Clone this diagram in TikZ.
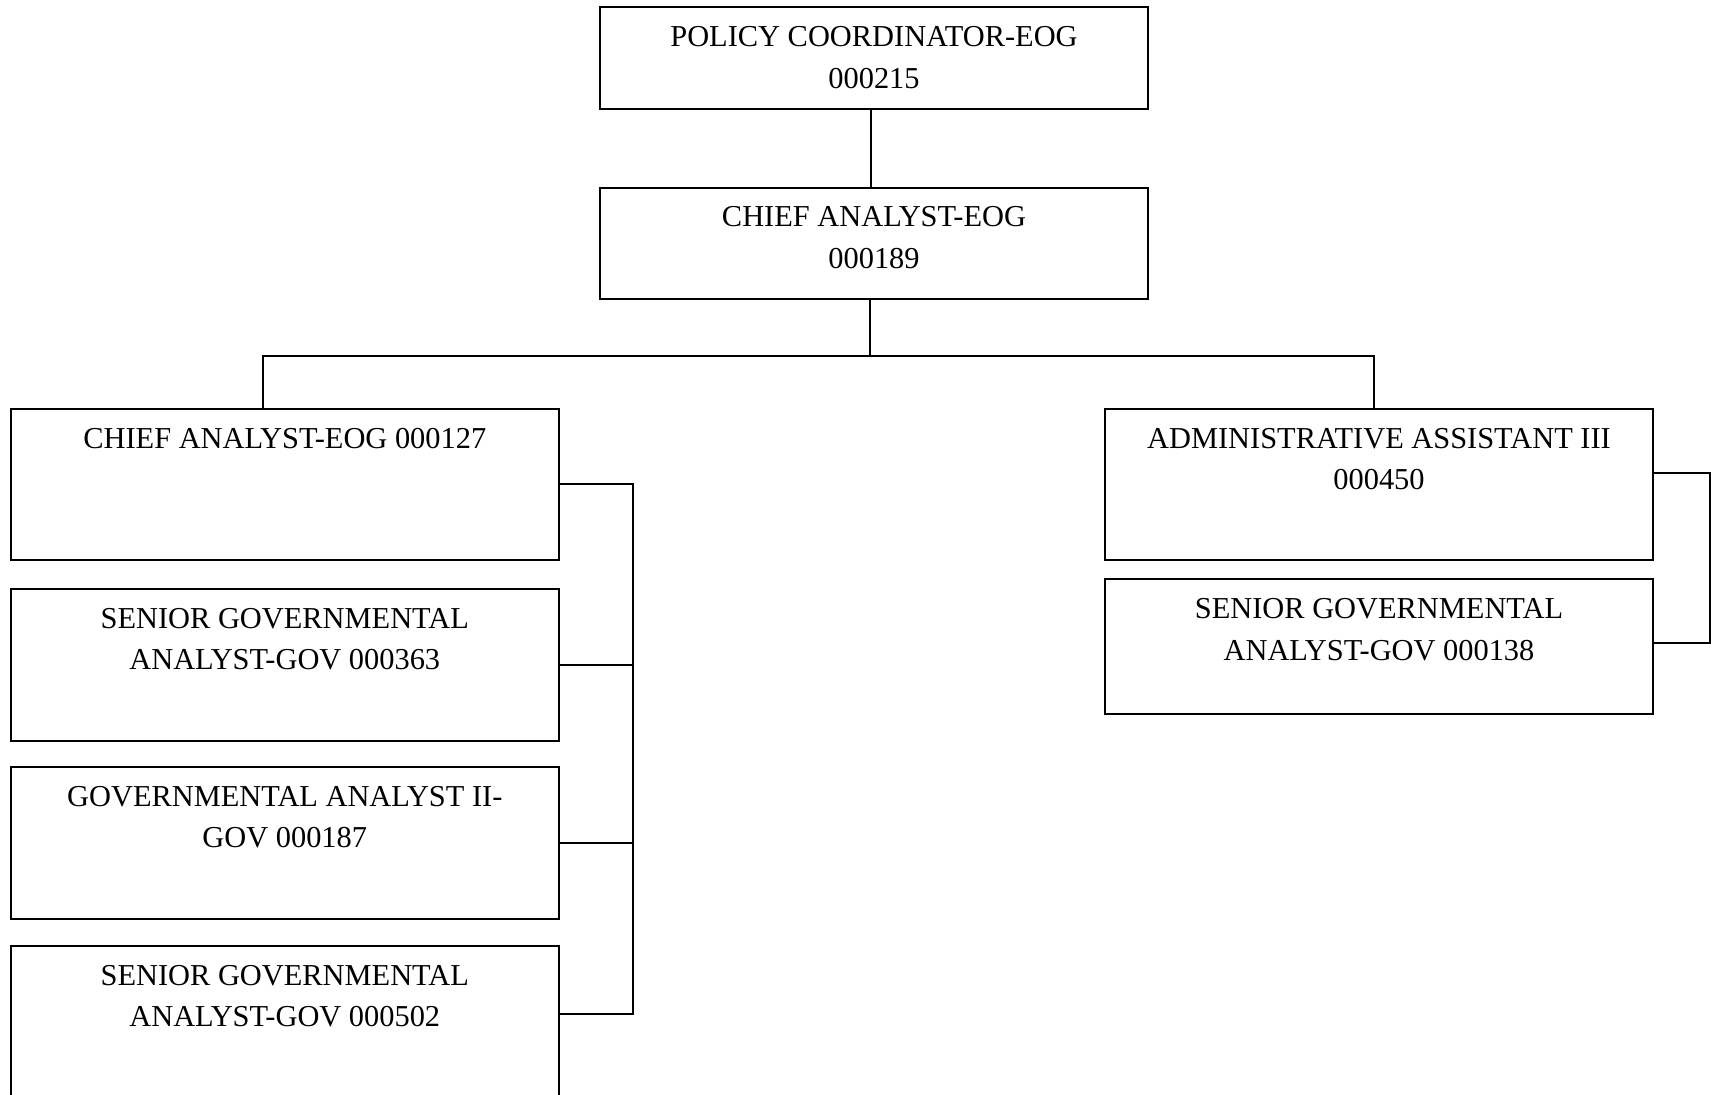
\documentclass[tikz,border=0pt]{standalone}
\usepackage{fontspec}
\setmainfont{Liberation Serif}
% text of a position box, set from the top edge of the box
\newcommand\celltext[2]{\parbox[c][#1][t]{274pt}{\centering\fontsize{15.2pt}{20.75pt}\selectfont\rule{0pt}{19.6pt}#2}}
\begin{document}
\begin{tikzpicture}[x=0.5pt,y=-0.5pt,
  box/.style={draw, line width=1pt, inner sep=0pt, anchor=north west, minimum width=274pt},
  conn/.style={line width=1pt}]
\useasboundingbox (0,0) rectangle (1711,1095);
\fill[white] (0,0) rectangle (1711,1095);

% upper chain
\node[box] (pc) at (599,6.5)   {\celltext{50.75pt}{POLICY COORDINATOR-EOG\\000215}};
\node[box] (ca) at (599,186.6) {\celltext{55.65pt}{CHIEF ANALYST-EOG\\000189}};

% left column
\node[box] (a) at (9.8,408)   {\celltext{75.35pt}{CHIEF ANALYST-EOG 000127}};
\node[box] (b) at (9.8,588)   {\celltext{75.9pt}{SENIOR GOVERNMENTAL\\ANALYST-GOV 000363}};
\node[box] (c) at (9.8,766)   {\celltext{75.85pt}{GOVERNMENTAL ANALYST II-\\GOV 000187}};
\node[box] (d) at (9.8,945)   {\celltext{80pt}{SENIOR GOVERNMENTAL\\ANALYST-GOV 000502}};

% right column
\node[box] (e) at (1104,408)  {\celltext{75.35pt}{ADMINISTRATIVE ASSISTANT III\\000450}};
\node[box] (f) at (1104,578.3){\celltext{67.15pt}{SENIOR GOVERNMENTAL\\ANALYST-GOV 000138}};

% reference points of the connectors
\coordinate (bus) at (869.7,355.7);
\coordinate (dropL) at (263,0);
\coordinate (dropR) at (1373.8,0);
\coordinate (spineL) at (632.9,0);
\coordinate (spineR) at (1710,0);
\coordinate (dstub) at ([yshift=-34.35pt]d.north east);
\coordinate (estub) at ([yshift=5.45pt]e.east);
\coordinate (fstub) at ([yshift=1.95pt]f.east);

% connectors
\draw[conn] ([xshift=-1.6pt]pc.south) -- ([xshift=-1.6pt]ca.north);
\draw[conn] (ca.south -| bus) -- (bus);
\draw[conn] (dropL |- a.north) |- (bus) -| (dropR |- e.north);
\draw[conn] (a.east) -| (spineL |- dstub) -- (dstub);
\draw[conn] (b.east) -- (spineL |- b.east);
\draw[conn] (c.east) -- (spineL |- c.east);
\draw[conn] (estub) -| (spineR |- fstub) -- (fstub);
\end{tikzpicture}
\end{document}
